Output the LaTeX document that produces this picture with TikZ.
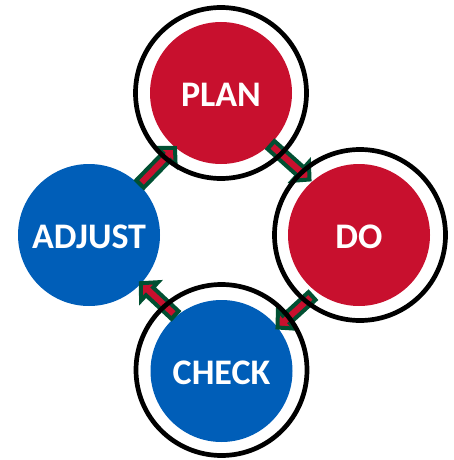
\documentclass[tikz,border=0pt]{standalone}
\usepackage{fontspec}
\setmainfont{Carlito}
\usetikzlibrary{calc}
\definecolor{pdcared}{RGB}{200,16,46}
\definecolor{pdcablue}{RGB}{0,94,184}
\definecolor{arrowgreen}{RGB}{0,80,50}
\tikzset{
  stage/.style={circle, minimum size=142pt, inner sep=0pt, text=white,
    font=\fontsize{36}{36}\selectfont\bfseries, text height=27pt, text depth=0pt},
  redstage/.style={stage, fill=pdcared},
  bluestage/.style={stage, fill=pdcablue},
  ring/.style={draw=black, line width=4.7pt, fill=none},
  blockarr/.style={draw=arrowgreen, fill=pdcared, line width=4pt, line join=miter},
}
\newcommand\blockarrow[2]{%
  \coordinate (hb) at ($(#2)!12pt!(#1)$);
  \draw[blockarr] ($(#1)!5.25pt!90:(#2)$) -- ($(hb)!5.25pt!-90:(#1)$) -- ($(hb)!12.5pt!-90:(#1)$)
    -- (#2) -- ($(hb)!12.5pt!90:(#1)$) -- ($(hb)!5.25pt!90:(#1)$) -- ($(#1)!5.25pt!-90:(#2)$) -- cycle;
}
\begin{document}
\begin{tikzpicture}[x=1pt,y=-1pt]
\useasboundingbox (0,0) rectangle (454,460);
\node[redstage] (plan) at (221,93) {PLAN};
\node[redstage] (do) at (359,235) {DO};
\node[bluestage] (check) at (221.5,371) {CHECK};
\node[bluestage] (adjust) at (89,235) {ADJUST};
% arrow end points
\coordinate (t1) at (140,184); \coordinate (p1) at (175,148);
\coordinate (t2) at (271,145); \coordinate (p2) at (309.5,179.5);
\coordinate (t3) at (312,296); \coordinate (p3) at (277.5,327.5);
\coordinate (t4) at (175,315); \coordinate (p4) at (140.8,283.2);
\blockarrow{t1}{p1}
\blockarrow{t2}{p2}
\blockarrow{t3}{p3}
\blockarrow{t4}{p4}
% rings
\draw[ring] (plan.center) circle[radius=85.5];
\draw[ring] (do.center) ++(1,0) circle[radius=85.5];
\draw[ring] (check.center) ++(0,-1) circle[radius=85.5];
\end{tikzpicture}
\end{document}
